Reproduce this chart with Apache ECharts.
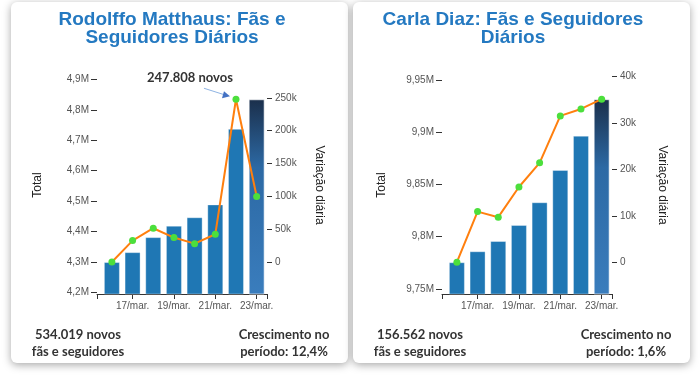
<!DOCTYPE html>
<html>
<head>
<meta charset="utf-8">
<script src="https://cdn.jsdelivr.net/npm/echarts@6/dist/echarts.min.js"></script>
<style>
  html, body { margin: 0; padding: 0; background: #fff; }
  #chart { width: 700px; height: 375px; }
</style>
</head>
<body>
<div id="chart"></div>
<script>
// dados
const dias = ['16/mar.', '17/mar.', '18/mar.', '19/mar.', '20/mar.', '21/mar.', '22/mar.', '23/mar.']
const diasRotulados = ['17/mar.', '19/mar.', '21/mar.', '23/mar.']

const rodolffoTotal = [4300500, 4333000, 4382300, 4419800, 4447500, 4489600, 4737400, 4834500]
const rodolffoVariacao = [0, 32700, 51500, 37300, 28000, 42300, 247808, 99700]
const rodolffoTotalTicks = [4200000, 4300000, 4400000, 4500000, 4600000, 4700000, 4800000, 4900000]
const rodolffoVariacaoTicks = [0, 50000, 100000, 150000, 200000, 250000]

const carlaTotal = [9775600, 9786100, 9795900, 9811200, 9833000, 9863900, 9896700, 9931600]
const carlaVariacao = [0, 10900, 9700, 16200, 21400, 31500, 33000, 35100]
const carlaTotalTicks = [9750000, 9800000, 9850000, 9900000, 9950000]
const carlaVariacaoTicks = [0, 10000, 20000, 30000, 40000]

const fmtM = v => parseFloat((v / 1e6).toFixed(3)).toString().replace('.', ',') + 'M'
const fmtK = v => (v === 0 ? '0' : v / 1000 + 'k')
const idxRotulos = diasRotulados.map(d => dias.indexOf(d))
const xMin = -0.72
const xMax = 7.5

const chart = echarts.init(document.getElementById('chart'))

// eixo direito: 0 no topo da primeira barra, variação máxima no topo da última
const escalaDireita = (total, variacao, min, max) => {
  const f0 = (total[0] - min) / (max - min)
  const f1 = (total[total.length - 1] - min) / (max - min)
  const per = Math.max(...variacao) / (f1 - f0)
  return { min: -f0 * per, max: (1 - f0) * per }
}

const painel = (i, total, variacao, totalTicks, variacaoTicks, min, max) => {
  const dir = escalaDireita(total, variacao, min, max)
  const n = total.length
  return {
    grid: { left: i === 0 ? 97 : 442, top: 76, width: 170, height: 218 },
    xAxis: {
      type: 'value', gridIndex: i, min: xMin, max: xMax,
      axisLine: { show: true, onZero: false, lineStyle: { color: '#333' } },
      axisTick: { show: true, length: 5, lineStyle: { color: '#333' }, customValues: [xMin, ...idxRotulos, xMax] },
      axisLabel: { customValues: idxRotulos, formatter: v => dias[v], color: '#555', fontSize: 10, fontFamily: 'Liberation Sans', margin: 7 },
      splitLine: { show: false }
    },
    yAxis: [
      {
        type: 'value', gridIndex: i, position: 'left', min: min, max: max,
        axisLine: { show: false, onZero: false },
        axisTick: { show: true, length: 6, lineStyle: { color: '#333' }, customValues: totalTicks },
        axisLabel: { customValues: totalTicks, formatter: fmtM, color: '#555', fontSize: 10, fontFamily: 'Liberation Sans', margin: 8 },
        splitLine: { show: false },
        name: 'Total', nameLocation: 'middle', nameRotate: 90, nameGap: i === 0 ? 53 : 54,
        nameTextStyle: { color: '#222', fontSize: 12, fontFamily: 'Liberation Sans' }
      },
      {
        type: 'value', gridIndex: i, position: 'right', min: dir.min, max: dir.max,
        axisLine: { show: false, onZero: false },
        axisTick: { show: true, length: 5, lineStyle: { color: '#333' }, customValues: variacaoTicks },
        axisLabel: { customValues: variacaoTicks, formatter: fmtK, color: '#555', fontSize: 10, fontFamily: 'Liberation Sans', margin: 8 },
        splitLine: { show: false },
        name: 'Variação diária', nameLocation: 'middle', nameRotate: -90, nameGap: i === 0 ? 46 : 44,
        nameTextStyle: { color: '#222', fontSize: 12, fontFamily: 'Liberation Sans' }
      }
    ],
    series: [
      {
        type: 'bar', xAxisIndex: i, yAxisIndex: i * 2, barWidth: 16,
        itemStyle: { color: '#1f77b4', borderColor: 'rgba(255,255,255,0.35)', borderWidth: 1 },
        data: total.map((v, k) => {
          if (k < n - 1) return [k, v]
          return {
            value: [k, v],
            itemStyle: {
              color: new echarts.graphic.LinearGradient(0, 0, 0, 1, [
                { offset: 0, color: '#1b2f4b' },
                { offset: 0.35, color: '#2c69a4' },
                { offset: 1, color: '#3a7dbd' }
              ])
            }
          }
        })
      },
      {
        type: 'line', xAxisIndex: i, yAxisIndex: i * 2 + 1, z: 5,
        symbol: 'circle', symbolSize: 7,
        lineStyle: { color: '#ff7f0e', width: 2 },
        itemStyle: { color: '#4cdf3c' },
        data: variacao.map((v, k) => [k, v])
      }
    ]
  }
}

const p1 = painel(0, rodolffoTotal, rodolffoVariacao, rodolffoTotalTicks, rodolffoVariacaoTicks, 4195700, 4910800)
const p2 = painel(1, carlaTotal, carlaVariacao, carlaTotalTicks, carlaVariacaoTicks, 9745200, 9953800)

const cartoes = [
  { type: 'rect', z: -10, shape: { x: 11, y: 2, width: 337, height: 361, r: 6 },
    style: { fill: '#fff', shadowBlur: 8, shadowColor: 'rgba(0,0,0,0.35)', shadowOffsetY: 2 } },
  { type: 'rect', z: -10, shape: { x: 353, y: 2, width: 337, height: 361, r: 6 },
    style: { fill: '#fff', shadowBlur: 8, shadowColor: 'rgba(0,0,0,0.35)', shadowOffsetY: 2 } }
]
const textos = [
  { t: 'Rodolffo Matthaus: Fãs e\nSeguidores Diários', x: 172, y: 29, font: 'bold 19px "Liberation Sans"', fill: '#2479c1', lh: 18 },
  { t: 'Carla Diaz: Fãs e Seguidores\nDiários', x: 513, y: 29, font: 'bold 19px "Liberation Sans"', fill: '#2479c1', lh: 18 },
  { t: '534.019 novos\nfãs e seguidores', x: 78, y: 343, font: 'bold 13px "Lato"', fill: '#333', lh: 17 },
  { t: 'Crescimento no\nperíodo: 12,4%', x: 284, y: 343, font: 'bold 13px "Lato"', fill: '#333', lh: 17 },
  { t: '156.562 novos\nfãs e seguidores', x: 420, y: 343, font: 'bold 13px "Lato"', fill: '#333', lh: 17 },
  { t: 'Crescimento no\nperíodo: 1,6%', x: 626, y: 343, font: 'bold 13px "Lato"', fill: '#333', lh: 17 }
].map(o => ({
  type: 'text', x: o.x, y: o.y, z: 10,
  style: { text: o.t, font: o.font, fill: o.fill, textAlign: 'center', textVerticalAlign: 'middle', lineHeight: o.lh }
}))

chart.setOption({
  backgroundColor: '#fff',
  animation: false,
  grid: [p1.grid, p2.grid],
  xAxis: [p1.xAxis, p2.xAxis],
  yAxis: [...p1.yAxis, ...p2.yAxis],
  series: [...p1.series, ...p2.series],
  graphic: [...cartoes, ...textos]
})

// anotação do pico
const iPico = rodolffoVariacao.indexOf(Math.max(...rodolffoVariacao))
const [px, py] = chart.convertToPixel({ xAxisIndex: 0, yAxisIndex: 1 }, [iPico, rodolffoVariacao[iPico]])
chart.setOption({
  graphic: [...cartoes, ...textos,
    { type: 'text', x: px - 46, y: py - 21, z: 10,
      style: { text: '247.808 novos', font: 'bold 13px "Lato"', fill: '#333', textAlign: 'center', textVerticalAlign: 'middle' } },
    { type: 'line', z: 10, shape: { x1: px - 32, y1: py - 11, x2: px - 10, y2: py - 4 },
      style: { stroke: '#8fb4e3', lineWidth: 1 } },
    { type: 'polygon', z: 10, shape: { points: [[px - 6, py - 3], [px - 12, py - 8], [px - 14, py - 1]] },
      style: { fill: '#4472c4' } }
  ]
})
</script>
</body>
</html>
